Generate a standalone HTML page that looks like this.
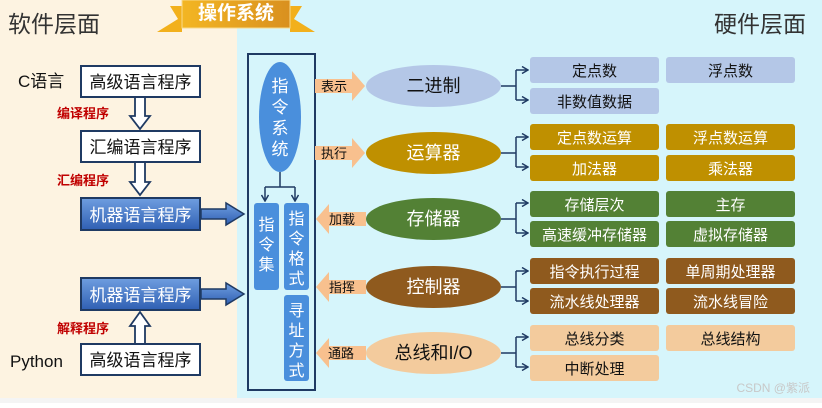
<!DOCTYPE html>
<html><head><meta charset="utf-8"><style>
html,body{margin:0;padding:0;}
body{width:822px;height:403px;overflow:hidden;}
text{font-family:"Liberation Sans","Noto Sans CJK SC",sans-serif;}
</style></head><body>
<svg width="822" height="403" viewBox="0 0 822 403" xmlns="http://www.w3.org/2000/svg">
<defs>
<linearGradient id="bl" x1="0" y1="0" x2="0" y2="1"><stop offset="0" stop-color="#6f9ee0"/><stop offset="1" stop-color="#2f5fb3"/></linearGradient>
<linearGradient id="rib" x1="0" y1="0" x2="1" y2="0"><stop offset="0" stop-color="#f3b623"/><stop offset="1" stop-color="#d9901f"/></linearGradient>
<marker id="ah" markerWidth="8" markerHeight="8" refX="7" refY="4" orient="auto" markerUnits="userSpaceOnUse"><path d="M1,0.5 L7,4 L1,7.5" fill="none" stroke="#1f3a63" stroke-width="1.5"/></marker>
</defs>
<rect x="0" y="0" width="237" height="403" fill="#fdf3e1"/>
<rect x="237" y="0" width="585" height="403" fill="#d6f5fb"/>
<rect x="0" y="398" width="822" height="5" fill="#f4f4f4"/>
<!-- ribbon -->
<polygon points="157,32 182,32 182,6 170,6 178,19" fill="#f2b01c"/>
<polygon points="315,32 290,32 290,6 302,6 294,19" fill="#f2b01c"/>
<rect x="182" y="0" width="108" height="28" fill="url(#rib)" stroke="#f8d98a" stroke-width="1"/>
<text x="236" y="19" font-size="19" font-weight="bold" fill="#fff" text-anchor="middle">操作系统</text>
<text x="8" y="32" font-size="23" fill="#333">软件层面</text>
<text x="806" y="32" font-size="23" fill="#333" text-anchor="end">硬件层面</text>
<!-- left flow -->
<text x="18" y="87" font-size="17" fill="#111">C语言</text>
<rect x="81" y="66" width="119" height="31" fill="#fff" stroke="#1f3a63" stroke-width="2"/>
<text x="140.5" y="88" font-size="17" fill="#111" text-anchor="middle">高级语言程序</text>
<path d="M135,98 V116 H130 L140,129 L150,116 H145 V98" fill="#fff" stroke="#1f3a63" stroke-width="1.8"/>
<text x="57" y="118" font-size="13" font-weight="bold" fill="#c00000">编译程序</text>
<rect x="81" y="131" width="119" height="31" fill="#fff" stroke="#1f3a63" stroke-width="2"/>
<text x="140.5" y="153" font-size="17" fill="#111" text-anchor="middle">汇编语言程序</text>
<path d="M135,163 V182 H130 L140,195 L150,182 H145 V163" fill="#fff" stroke="#1f3a63" stroke-width="1.8"/>
<text x="57" y="185" font-size="13" font-weight="bold" fill="#c00000">汇编程序</text>
<rect x="81" y="198" width="119" height="32" fill="url(#bl)" stroke="#1f3a63" stroke-width="2"/>
<text x="140.5" y="221" font-size="17" fill="#fff" text-anchor="middle">机器语言程序</text>
<path d="M201,209 H226 V203 L244,214 L226,225 V219 H201 Z" fill="url(#bl)" stroke="#1f3a63" stroke-width="1.5"/>
<rect x="81" y="278" width="119" height="32" fill="url(#bl)" stroke="#1f3a63" stroke-width="2"/>
<text x="140.5" y="301" font-size="17" fill="#fff" text-anchor="middle">机器语言程序</text>
<path d="M201,289 H226 V283 L244,294 L226,305 V299 H201 Z" fill="url(#bl)" stroke="#1f3a63" stroke-width="1.5"/>
<path d="M135,344 V326 H130 L140,312 L150,326 H145 V344" fill="#fff" stroke="#1f3a63" stroke-width="1.8"/>
<text x="57" y="333" font-size="13" font-weight="bold" fill="#c00000">解释程序</text>
<text x="10" y="367" font-size="17" fill="#111">Python</text>
<rect x="81" y="344" width="119" height="31" fill="#fff" stroke="#1f3a63" stroke-width="2"/>
<text x="140.5" y="366" font-size="17" fill="#111" text-anchor="middle">高级语言程序</text>
<!-- middle panel -->
<rect x="248" y="54" width="67" height="336" fill="none" stroke="#1f3a63" stroke-width="2"/>
<ellipse cx="280" cy="117" rx="21" ry="55" fill="#4a8fdc"/>
<g font-size="17" fill="#fff" text-anchor="middle">
<text x="280" y="92">指</text><text x="280" y="113">令</text><text x="280" y="134">系</text><text x="280" y="155">统</text></g>
<path d="M280,172 V187 M265,187 H295" stroke="#1f3a63" stroke-width="1.5" fill="none"/>
<path d="M265,187 V201" stroke="#1f3a63" stroke-width="1.5" fill="none" marker-end="url(#ah)"/>
<path d="M295,187 V201" stroke="#1f3a63" stroke-width="1.5" fill="none" marker-end="url(#ah)"/>
<rect x="254" y="203" width="25" height="87" rx="3" fill="#4a8fdc"/>
<rect x="284" y="203" width="25" height="87" rx="3" fill="#4a8fdc"/>
<rect x="284" y="295" width="25" height="86" rx="3" fill="#4a8fdc"/>
<g font-size="16" fill="#fff" text-anchor="middle">
<text x="266.5" y="230">指</text><text x="266.5" y="250">令</text><text x="266.5" y="270">集</text>
<text x="296.5" y="224">指</text><text x="296.5" y="244">令</text><text x="296.5" y="264">格</text><text x="296.5" y="284">式</text>
<text x="296.5" y="316">寻</text><text x="296.5" y="336">址</text><text x="296.5" y="356">方</text><text x="296.5" y="376">式</text>
</g>
<!-- arrows labels -->
<g fill="#f8c08e">
<polygon points="315,79 352,79 352,71 365,86 352,101 352,93 315,93"/>
<polygon points="315,146 352,146 352,138 365,153 352,168 352,160 315,160"/>
<polygon points="366,212 329,212 329,204 316,219 329,234 329,226 366,226"/>
<polygon points="366,280 329,280 329,272 316,287 329,302 329,294 366,294"/>
<polygon points="366,346 329,346 329,338 316,353 329,368 329,360 366,360"/>
</g>
<g font-size="13" fill="#111">
<text x="321" y="91">表示</text><text x="321" y="158">执行</text>
<text x="329" y="224">加载</text><text x="329" y="292">指挥</text><text x="328" y="358">通路</text>
</g>
<!-- ellipses -->
<ellipse cx="433.5" cy="86" rx="67.5" ry="21" fill="#b4c7e7"/>
<ellipse cx="433.5" cy="153" rx="67.5" ry="21" fill="#bf9000"/>
<ellipse cx="433.5" cy="219" rx="67.5" ry="21" fill="#538135"/>
<ellipse cx="433.5" cy="287" rx="67.5" ry="21" fill="#8f5a1e"/>
<ellipse cx="433.5" cy="353" rx="67.5" ry="21" fill="#f3cb9d"/>
<g font-size="18" text-anchor="middle">
<text x="433.5" y="92" fill="#111">二进制</text>
<text x="433.5" y="159" fill="#fff">运算器</text>
<text x="433.5" y="225" fill="#fff">存储器</text>
<text x="433.5" y="293" fill="#fff">控制器</text>
<text x="433.5" y="359" fill="#111">总线和I/O</text>
</g>
<!-- connectors -->
<g stroke="#1f3a63" stroke-width="1.5" fill="none">
<path d="M501,86 H516 M516,70 V100"/><path d="M516,70 H528" marker-end="url(#ah)"/><path d="M516,100 H528" marker-end="url(#ah)"/>
<path d="M501,153 H516 M516,137 V167"/><path d="M516,137 H528" marker-end="url(#ah)"/><path d="M516,167 H528" marker-end="url(#ah)"/>
<path d="M501,219 H516 M516,203 V233"/><path d="M516,203 H528" marker-end="url(#ah)"/><path d="M516,233 H528" marker-end="url(#ah)"/>
<path d="M501,287 H516 M516,271 V301"/><path d="M516,271 H528" marker-end="url(#ah)"/><path d="M516,301 H528" marker-end="url(#ah)"/>
<path d="M501,353 H516 M516,337 V367"/><path d="M516,337 H528" marker-end="url(#ah)"/><path d="M516,367 H528" marker-end="url(#ah)"/>
</g>
<!-- boxes -->
<g>
<rect x="530" y="57" width="129" height="26" rx="3" fill="#b4c7e7"/><rect x="666" y="57" width="129" height="26" rx="3" fill="#b4c7e7"/>
<rect x="530" y="88" width="129" height="26" rx="3" fill="#b4c7e7"/>
<rect x="530" y="124" width="129" height="26" rx="3" fill="#bf9000"/><rect x="666" y="124" width="129" height="26" rx="3" fill="#bf9000"/>
<rect x="530" y="155" width="129" height="26" rx="3" fill="#bf9000"/><rect x="666" y="155" width="129" height="26" rx="3" fill="#bf9000"/>
<rect x="530" y="191" width="129" height="26" rx="3" fill="#538135"/><rect x="666" y="191" width="129" height="26" rx="3" fill="#538135"/>
<rect x="530" y="221" width="129" height="26" rx="3" fill="#538135"/><rect x="666" y="221" width="129" height="26" rx="3" fill="#538135"/>
<rect x="530" y="258" width="129" height="26" rx="3" fill="#8f5a1e"/><rect x="666" y="258" width="129" height="26" rx="3" fill="#8f5a1e"/>
<rect x="530" y="288" width="129" height="26" rx="3" fill="#8f5a1e"/><rect x="666" y="288" width="129" height="26" rx="3" fill="#8f5a1e"/>
<rect x="530" y="325" width="129" height="26" rx="3" fill="#f3cb9d"/><rect x="666" y="325" width="129" height="26" rx="3" fill="#f3cb9d"/>
<rect x="530" y="355" width="129" height="26" rx="3" fill="#f3cb9d"/>
</g>
<g font-size="15" text-anchor="middle">
<g fill="#111">
<text x="594.5" y="76">定点数</text><text x="730.5" y="76">浮点数</text><text x="594.5" y="107">非数值数据</text>
<text x="594.5" y="344">总线分类</text><text x="730.5" y="344">总线结构</text><text x="594.5" y="374">中断处理</text>
</g>
<g fill="#fff">
<text x="594.5" y="143">定点数运算</text><text x="730.5" y="143">浮点数运算</text>
<text x="594.5" y="174">加法器</text><text x="730.5" y="174">乘法器</text>
<text x="594.5" y="210">存储层次</text><text x="730.5" y="210">主存</text>
<text x="594.5" y="240">高速缓冲存储器</text><text x="730.5" y="240">虚拟存储器</text>
<text x="594.5" y="277">指令执行过程</text><text x="730.5" y="277">单周期处理器</text>
<text x="594.5" y="307">流水线处理器</text><text x="730.5" y="307">流水线冒险</text>
</g>
</g>
<text x="810" y="392" font-size="12" fill="#c8c8c8" text-anchor="end">CSDN @紫派</text>
</svg>
</body></html>
